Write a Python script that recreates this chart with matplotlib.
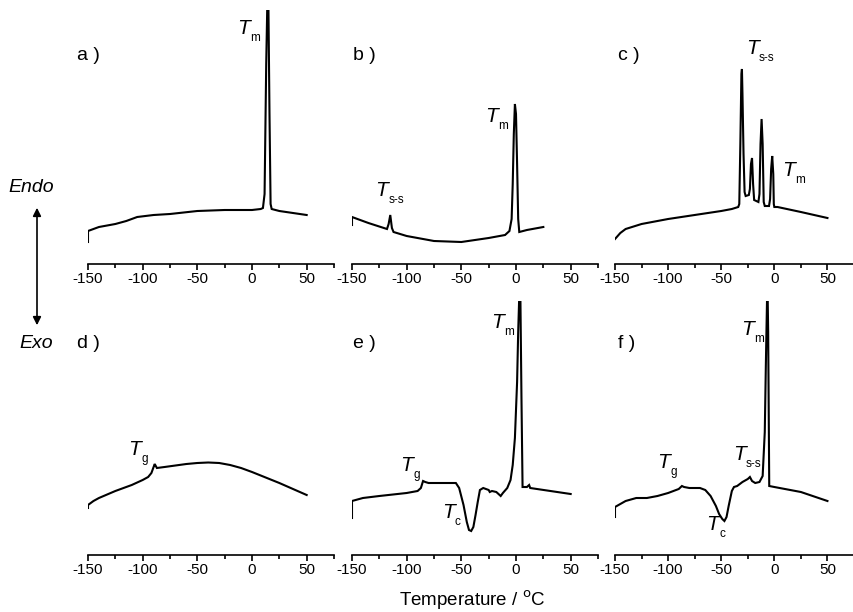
import matplotlib
matplotlib.use("Agg")
import matplotlib.pyplot as plt
from matplotlib.ticker import MultipleLocator

plt.rcParams['font.family'] = ['Liberation Sans', 'DejaVu Sans']
plt.rcParams['axes.unicode_minus'] = False

# DSC traces, heat flow in arbitrary units (endo up)
temp_a = [-150, -150, -140, -125, -115, -105, -90, -75, -50, -25, 0, 8, 10, 11.5, 13, 14, 15, 16, 17, 18, 25, 50]
heat_a = [22, 33, 37, 40, 43, 47, 49, 50, 53, 54, 54, 55, 56, 70, 200, 260, 260, 150, 60, 55, 53, 49]

temp_b = [-150, -150, -135, -118, -116.5, -115, -113.5, -112, -100, -75, -50, -25, -10,
          -6, -4, -3, -2, -1, 0, 1, 2, 3, 10, 25]
heat_b = [39, 47, 41, 35, 40, 49, 36, 32, 28, 23, 22, 26, 29,
          33, 45, 80, 130, 160, 150, 100, 45, 32, 34, 37]

temp_c = [-150, -145, -140, -125, -100, -75, -50, -40, -34, -33, -32, -31, -30.5, -30, -29, -28,
          -27, -24, -23, -22, -21, -20, -19, -15, -14, -13, -12, -11, -10, -9, -5, -4, -3, -2,
          -1, -0.5, 0, 3, 25, 50]
heat_c = [25, 31, 35, 40, 45, 49, 53, 55, 57, 60, 120, 190, 195, 170, 110, 72,
          68, 69, 75, 100, 106, 80, 64, 62, 70, 120, 145, 120, 62, 58, 58, 65, 95, 108,
          90, 60, 57, 57, 52, 46]

temp_d = [-150, -150, -145, -140, -125, -110, -100, -95, -92, -90, -89, -88, -87, -80, -60, -50,
          -40, -30, -20, -10, 0, 25, 50]
heat_d = [47, 50, 54, 57, 64, 70, 75, 78, 82, 88, 91, 89, 87, 88, 91, 92,
          92.5, 92, 90, 87, 83, 72, 60]

temp_e = [-150, -150, -140, -125, -100, -90, -87, -85, -83, -80, -55, -52, -48, -45, -43, -41, -39, -37, -35, -33,
          -30, -25, -24, -22, -18, -14, -12, -8, -5, -3, -1, 1, 2, 3, 4, 5, 6, 10, 12, 13, 50]
heat_e = [37, 54, 57, 59, 62, 64, 67, 74, 73, 72, 72, 67, 50, 33, 25, 24, 28, 40, 53, 65,
          67, 65, 63, 64, 63, 59, 62, 67, 75, 90, 117, 173, 223, 260, 260, 157, 68, 68, 70, 67, 61]

temp_f = [-150, -150, -140, -130, -120, -110, -100, -90, -87, -85, -80, -70, -65, -60, -55, -52, -49, -47, -45, -43,
          -40, -38, -35, -30, -25, -23, -21, -18, -14, -11, -9, -8, -6.8, -6.3, -5.8, -4.8, 0, 25, 50]
heat_f = [38, 48, 54, 57, 57, 59, 62, 66, 69, 68, 67, 67, 65, 59, 49, 41, 36, 34, 38, 49,
          64, 68, 69, 73, 76, 78, 74, 72, 73, 79, 123, 189, 260, 260, 223, 69, 68, 63, 54]

panel_names = ['a )', 'b )', 'c )', 'd )', 'e )', 'f )']

# transition labels: (x, y, subscript)
labels = [
    [(-14, 230, 'm')],
    [(-129, 68, 's-s'), (-28, 142, 'm')],
    [(-27, 210, 's-s'), (7, 88, 'm')],
    [(-113, 100, 'g')],
    [(-106, 84, 'g'), (-68, 37, 'c'), (-23, 227, 'm')],
    [(-110, 87, 'g'), (-64, 25, 'c'), (-39, 95, 's-s'), (-31, 220, 'm')],
]

traces = [(temp_a, heat_a), (temp_b, heat_b), (temp_c, heat_c),
          (temp_d, heat_d), (temp_e, heat_e), (temp_f, heat_f)]

W, H = 854, 612
fig = plt.figure(figsize=(W / 100, H / 100), dpi=100)

lefts = [88, 352, 615]
widths = [246, 246, 239]
bottoms = [264, 555]
axh = 254

for i, (t, q) in enumerate(traces):
    r, c = divmod(i, 3)
    ax = fig.add_axes([lefts[c] / W, 1 - bottoms[r] / H, widths[c] / W, axh / H])
    ax.plot(t, q, color='black', lw=1.5, solid_joinstyle='miter')
    ax.set_xlim(-150, 75)
    ax.set_ylim(0, 254)
    for s in ['top', 'left', 'right']:
        ax.spines[s].set_visible(False)
    ax.spines['bottom'].set_linewidth(1.2)
    ax.set_yticks([])
    ax.set_xticks([-150, -100, -50, 0, 50])
    ax.xaxis.set_minor_locator(MultipleLocator(25))
    ax.tick_params(axis='x', which='major', direction='out', length=4, width=1.2,
                   labelsize=11, pad=2)
    ax.tick_params(axis='x', which='minor', direction='out', length=3, width=1.2)
    ax.patch.set_alpha(0)
    for x, y, sub in labels[i]:
        ax.text(x, y, 'T', style='italic', fontsize=15)
        ax.annotate(sub, (x, y), xytext=(9.5, -5), textcoords='offset points', fontsize=8.5)

# panel letters
for i, name in enumerate(panel_names):
    r, c = divmod(i, 3)
    px = [77, 353, 618][c]
    py = [55, 343][r]
    fig.text(px / W, 1 - py / H, name, fontsize=14, ha='left', va='center')

# Endo / Exo arrow
fig.text(31 / W, 1 - 188 / H, 'Endo', style='italic', fontsize=14, ha='center', va='center')
fig.text(36 / W, 1 - 343 / H, 'Exo', style='italic', fontsize=14, ha='center', va='center')
fig.patches.append(matplotlib.patches.FancyArrowPatch(
    (37 / W, 1 - 328 / H), (37 / W, 1 - 205 / H), transform=fig.transFigure,
    arrowstyle='<|-|>', mutation_scale=12, color='black', lw=1.2))

fig.text(472 / W, 1 - 600 / H, 'Temperature / $^{\\rm o}$C', fontsize=13.5, ha='center', va='center')

fig.savefig('out.png', dpi=100)
